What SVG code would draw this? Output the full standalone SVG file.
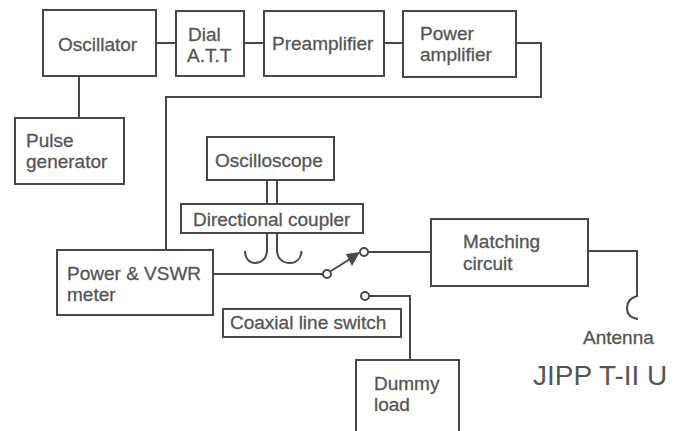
<svg xmlns="http://www.w3.org/2000/svg" width="677" height="431" viewBox="0 0 677 431">
<style>
rect{fill:#fff;stroke:#484848;stroke-width:2}
.c{fill:none;stroke:#484848;stroke-width:2}
.t{font-family:"Liberation Sans",Arial,sans-serif;font-size:19px;fill:#555;stroke:#555;stroke-width:.3}
.j{font-family:"Liberation Sans",Arial,sans-serif;font-size:28px;fill:#555}
circle{fill:#fff;stroke:#484848;stroke-width:2}
</style>
<g id="connectors">
<path class="c" d="M156 43H176M244 43H264M384 43H403M516 43H541V97H166V250"/>
<path class="c" d="M79 76V118"/>
<path class="c" d="M267 180V204M277 180V204"/>
<path class="c" d="M267 233V250C267 259 261 263 255 263C249 263 245 258 245 251"/>
<path class="c" d="M277 233V250C277 259 283 263 290 263C297 263 301 258 301.500 251"/>
<path class="c" d="M213 274H323"/>
<path class="c" d="M331 271L350 259"/>
<path d="M346 254L360 252L352 266Z" fill="#484848"/>
<path class="c" d="M368 252H431"/>
<path class="c" d="M369 296H410V360"/>
<path class="c" d="M588 251H637V296C630 298 627 303 627 308C627 314 631 318 638 319"/>
<circle cx="327" cy="274" r="4"/>
<circle cx="364" cy="252" r="4"/>
<circle cx="365" cy="296" r="4"/>
</g>
<g id="oscillator"><rect x="43" y="10" width="113" height="66"/><text class="t" x="58" y="51">Oscillator</text></g>
<g id="dial"><rect x="176" y="11" width="68" height="65"/><text class="t" x="188" y="41">Dial</text><text class="t" x="187" y="62">A.T.T</text></g>
<g id="preamp"><rect x="264" y="11" width="120" height="65"/><text class="t" x="272" y="50">Preamplifier</text></g>
<g id="poweramp"><rect x="403" y="11" width="113" height="66"/><text class="t" x="420" y="40">Power</text><text class="t" x="420" y="61">amplifier</text></g>
<g id="pulse"><rect x="15" y="118" width="109" height="66"/><text class="t" x="26" y="147">Pulse</text><text class="t" x="26" y="168">generator</text></g>
<g id="oscilloscope"><rect x="207" y="137" width="127" height="43"/><text class="t" x="215" y="167">Oscilloscope</text></g>
<g id="coupler"><rect x="181" y="204" width="182" height="29"/><text class="t" x="193" y="226">Directional coupler</text></g>
<g id="vswr"><rect x="57" y="250" width="156" height="65"/><text class="t" x="67" y="280">Power &amp; VSWR</text><text class="t" x="67" y="301">meter</text></g>
<g id="switch"><rect x="223" y="309" width="178" height="28"/><text class="t" x="230" y="329">Coaxial line switch</text></g>
<g id="dummy"><rect x="356" y="360" width="103" height="80"/><text class="t" x="374" y="390">Dummy</text><text class="t" x="374" y="411">load</text></g>
<g id="matching"><rect x="431" y="219" width="157" height="67"/><text class="t" x="463" y="248">Matching</text><text class="t" x="463" y="270">circuit</text></g>
<g id="antenna"><text class="t" x="583" y="344">Antenna</text></g>
<text class="j" x="533" y="385">JIPP T-II U</text>
</svg>
